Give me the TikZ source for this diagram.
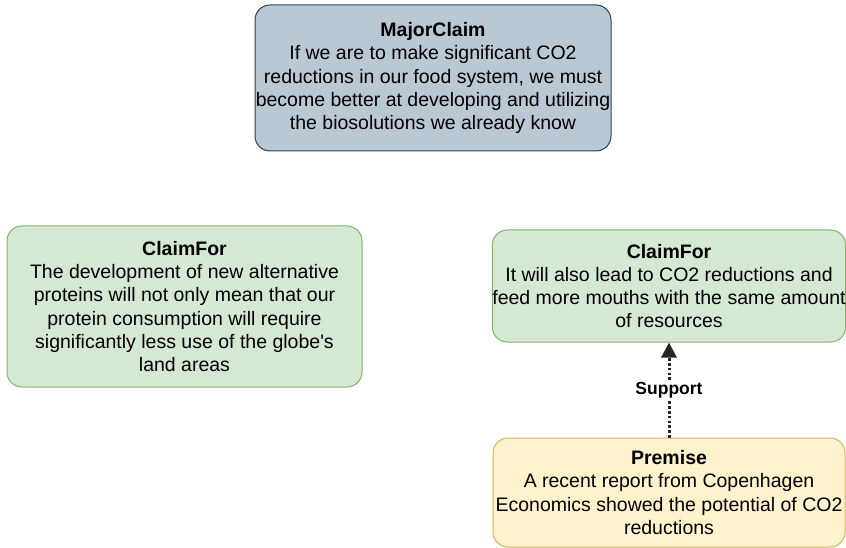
\documentclass[tikz,border=0pt]{standalone}
\usepackage{fontspec}
\setmainfont{Liberation Sans}
\usetikzlibrary{positioning,arrows.meta}
\definecolor{MCFill}{HTML}{BAC8D3}
\definecolor{MCDraw}{HTML}{23445D}
\definecolor{CFFill}{HTML}{D5E8D4}
\definecolor{CFDraw}{HTML}{82B366}
\definecolor{PRFill}{HTML}{FFF2CC}
\definecolor{PRDraw}{HTML}{D6B656}
\tikzset{
    argbox/.style = {draw, rectangle, rounded corners=15pt, align=center,
        inner sep=0pt, line width=1pt,
        font=\fontsize{19.5}{23.3}\selectfont},
    majorclaim/.style = {argbox, fill=MCFill, draw=MCDraw,
        minimum width=356pt, minimum height=146pt},
    claimfor/.style = {argbox, fill=CFFill, draw=CFDraw},
    premise/.style = {argbox, fill=PRFill, draw=PRDraw,
        minimum width=352pt, minimum height=109pt},
    support/.style = {draw=black!85, line width=3pt, dash pattern=on 2.6pt off 2.2pt,
        -{Triangle[width=15pt,length=15pt]}},
    edgelabel/.style = {fill=white, inner sep=2pt, font=\fontsize{17.5}{20}\selectfont\bfseries}
}
\begin{document}
\begin{tikzpicture}[x=1pt, y=-1pt]
    \useasboundingbox (0,0) rectangle (846,548);
    \node [majorclaim] (major) at (433,78) {\textbf{MajorClaim}\\If we are to make significant CO2\\reductions in our food system, we must\\become better at developing and utilizing\\the biosolutions we already know};
    \node [claimfor, minimum width=355pt, minimum height=161pt] (claimL) at (184.5,306.5) {\textbf{ClaimFor}\\The development of new alternative\\proteins will not only mean that our\\protein consumption will require\\significantly less use of the globe\textquotesingle s\\land areas};
    \node [claimfor, minimum width=352pt, minimum height=112pt] (claimR) at (669,286) {\textbf{ClaimFor}\\It will also lead to CO2 reductions and\\feed more mouths with the same amount\\of resources};
    \node [premise, below=95pt of claimR] (prem) {\textbf{Premise}\\A recent report from Copenhagen\\Economics showed the potential of CO2\\reductions};
    \draw [support] (prem) -- node [edgelabel] {Support} (claimR);
\end{tikzpicture}
\end{document}
